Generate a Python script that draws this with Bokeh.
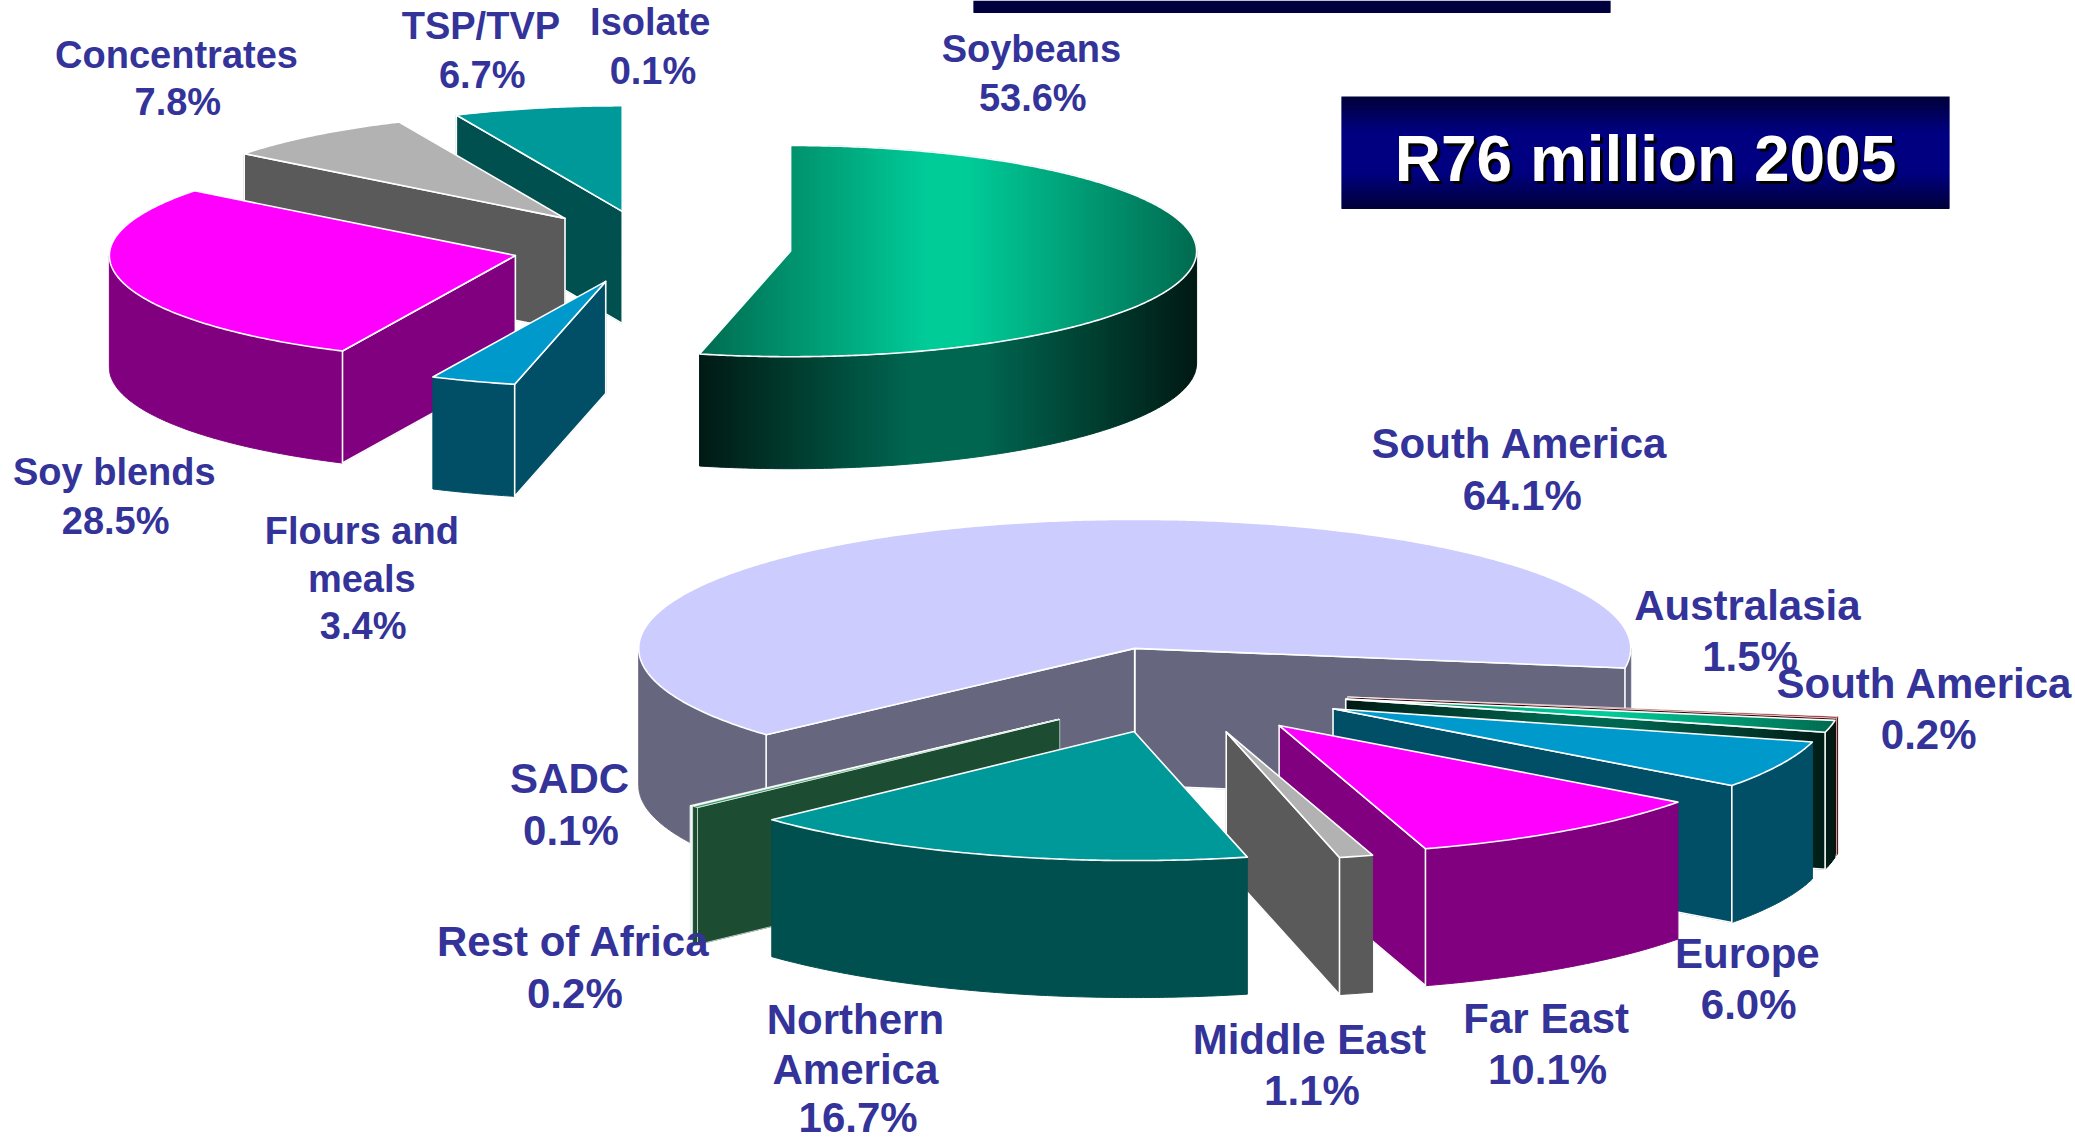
import numpy as np
from bokeh.plotting import figure
from bokeh.embed import file_html
from bokeh.resources import INLINE
from bokeh.core.properties import value

# ---- data ----
product_names = ["Soybeans", "Flours and meals", "Soy blends", "Concentrates", "TSP/TVP", "Isolate"]
product_shares = [53.6, 3.4, 28.5, 7.8, 6.7, 0.1]
region_names = ["South America", "South America", "Australasia", "Europe", "Far East",
                "Middle East", "Northern America", "Rest of Africa", "SADC"]
region_shares = [64.1, 0.2, 1.5, 6.0, 10.1, 1.1, 16.7, 0.2, 0.1]
title_text = "R76 million 2005"

# ---- styles (top colour, side colour); None marks the shaded green ----
product_colors = [None, ("#0099CC", "#004F66"), ("#FF00FF", "#800080"), ("#B2B2B2", "#5A5A5A"),
                  ("#009999", "#005050"), ("#FFFFFF", "#FFFFFF")]
region_colors = [("#CCCCFF", "#66667F"), ("#800000", "#400000"), None, ("#0099CC", "#004F66"),
                 ("#FF00FF", "#800080"), ("#B2B2B2", "#5A5A5A"), ("#009999", "#005050"),
                 ("#339966", "#1C4D33"), ("#F2FAF5", "#EEF5F0")]
INK = "#333399"
FONT = "Liberation Sans"
K = 1.3234  # label positions below were read in the shrunk view

# ---- layout ----
product_pie = dict(cx=651, cy=246.5, a=406, b=105.6, e=140, h=112, start=0)
region_pie = dict(cx=1182, cy=689.5, a=496, b=129, e=167, h=137, start=228)
region_draw_order = [0, 1, 2, 3, 4, 8, 7, 5, 6]
product_draw_order = [5, 4, 3, 0, 2, 1]

labels_top = [
    ("Concentrates", 133, 41), ("7.8%", 134, 77), ("TSP/TVP", 363, 19), ("6.7%", 364, 56),
    ("Isolate", 491, 16), ("0.1%", 493, 53), ("Soybeans", 779, 37), ("53.6%", 780, 74),
    ("Soy blends", 86, 356), ("28.5%", 87, 393), ("Flours and", 273, 401), ("meals", 273, 437),
    ("3.4%", 274, 473),
]
labels_bottom = [
    ("South America", 1148, 335), ("64.1%", 1150, 374), ("Australasia", 1320, 457), ("1.5%", 1322, 496),
    ("South America", 1454, 516), ("0.2%", 1457, 555), ("SADC", 430, 588), ("0.1%", 431, 627),
    ("Rest of Africa", 433, 711), ("0.2%", 434, 750), ("Northern", 646, 770), ("America", 646, 808),
    ("16.7%", 648, 844), ("Middle East", 989, 785), ("1.1%", 991, 824), ("Far East", 1168, 769),
    ("10.1%", 1169, 808), ("Europe", 1320, 720), ("6.0%", 1321, 759),
]

W, H = 2075, 1143
p = figure(width=W, height=H, x_range=(0, W), y_range=(H, 0), output_backend="svg",
           toolbar_location=None, min_border=0, outline_line_color=None)
p.axis.visible = False
p.grid.visible = False
p.background_fill_color = "white"
p.border_fill_color = "white"


def hex2rgb(c):
    return np.array([int(c[i:i + 2], 16) for i in (1, 3, 5)], float)


def mix(c0, c1, t):
    v = hex2rgb(c0) * (1 - t) + hex2rgb(c1) * t
    return "#%02X%02X%02X" % tuple(int(round(x)) for x in v)


def clip_x(xs, ys, x0, x1):
    def clip(pts, inside, cross):
        out = []
        for i in range(len(pts)):
            a, b = pts[i - 1], pts[i]
            if inside(b):
                if not inside(a):
                    out.append(cross(a, b))
                out.append(b)
            elif inside(a):
                out.append(cross(a, b))
        return out

    def at(xv):
        return lambda a, b: (xv, a[1] + (b[1] - a[1]) * (xv - a[0]) / (b[0] - a[0]))

    pts = list(zip(xs, ys))
    pts = clip(pts, lambda q: q[0] >= x0, at(x0))
    if pts:
        pts = clip(pts, lambda q: q[0] <= x1, at(x1))
    return [q[0] for q in pts], [q[1] for q in pts]


def shaded(polys, ctr, half, c_mid, c_edge, flat):
    """Fill polygons with a horizontal shade, as thin vertical strips."""
    sx, sy, col = [], [], []
    step = 3
    for xs, ys in polys:
        lo, hi = min(xs), max(xs)
        x = lo
        while x < hi:
            cx_, cy_ = clip_x(xs, ys, x, min(x + step, hi))
            if len(cx_) >= 3:
                t = min(1, abs(x + step / 2 - ctr) / half)
                t = max(0, (t - flat) / (1 - flat))
                sx.append(cx_)
                sy.append(cy_)
                col.append(mix(c_mid, c_edge, t))
            x += step
    if sx:
        p.patches(sx, sy, fill_color=col, line_color=col, line_width=1)


def draw_pie(shares, colors, names, geo, order):
    spans = []
    t = geo["start"]
    for v in shares:
        spans.append((t, t + 3.6 * v))
        t = spans[-1][1]
    for i in order:
        t1, t2 = spans[i]
        m = np.radians((t1 + t2) / 2)
        ax = geo["cx"] + geo["e"] * np.sin(m)
        ay = geo["cy"] - geo["e"] * geo["b"] / geo["a"] * np.cos(m)
        a, b, h = geo["a"], geo["b"], geo["h"]
        lw = 1.6 if t2 - t1 > 2 else 0.7

        def rim(d):
            r = np.radians(d)
            return ax + a * np.sin(r), ay - b * np.cos(r)

        faces = []
        for d, vis in ((t1, np.sin(np.radians(t1)) < -1e-6), (t2, np.sin(np.radians(t2)) > 1e-6)):
            if vis:
                rx, ry = rim(d)
                faces.append(([ax, rx, rx, ax], [ay, ry, ry + h, ay + h]))
        walls = []
        for k in (-1, 0, 1):
            lo, hi = max(t1, 90 + 360 * k), min(t2, 270 + 360 * k)
            if hi > lo:
                ds = np.linspace(lo, hi, max(3, int(hi - lo) * 2))
                rx, ry = rim(ds)
                walls.append((list(rx) + list(rx[::-1]), list(ry) + list((ry + h)[::-1])))
        ds = np.linspace(t1, t2, max(3, int(t2 - t1) * 2))
        rx, ry = rim(ds)
        top = ([ax] + list(rx), [ay] + list(ry))

        def outline(polys):
            p.patches([q[0] for q in polys], [q[1] for q in polys], fill_color=None,
                      line_color="white", line_width=lw, line_join="round")

        if colors[i] is None:
            xmin, xmax = min(top[0]), max(top[0])
            ctr, half = (xmin + xmax) / 2, (xmax - xmin) / 2
            shaded(faces + walls, ctr, half, "#006650", "#001A14", 0.15)
            outline(faces)
            shaded([top], ctr, half, "#00CC99", "#006B50", 0.08)
            outline([top])
        else:
            ctop, cside = colors[i]
            both = faces + walls
            if both:
                p.patches([q[0] for q in both], [q[1] for q in both], fill_color=cside,
                          line_color=cside, line_width=1)
                outline(faces)
            p.patches([top[0]], [top[1]], fill_color=ctop, line_color="white", line_width=lw,
                      line_join="round")


def banner(x0, x1, y0, y1, edge, mid):
    n = int(y1 - y0)
    ys = np.arange(n) + y0
    tv = 1 - np.abs((ys + 0.5 - (y0 + y1) / 2) / ((y1 - y0) / 2))
    col = [mix(edge, mid, min(1, v * 1.6)) for v in tv]
    p.quad(left=x0, right=x1, top=ys, bottom=ys + 1.4, fill_color=col, line_color=None)


draw_pie(product_shares, product_colors, product_names, product_pie, product_draw_order)
draw_pie(region_shares, region_colors, region_names, region_pie, region_draw_order)

banner(973, 1610, 0, 12, "#00003F", "#00003F")
banner(1341, 1949, 96, 208, "#00003A", "#000080")

for rows, size in ((labels_top, "38px"), (labels_bottom, "42px")):
    p.text(x=[r[1] * K for r in rows], y=[r[2] * K for r in rows], text=[r[0] for r in rows],
           text_color=INK, text_font=value(FONT), text_font_style="bold", text_font_size=size,
           text_align="center", text_baseline="middle")

tx, ty = 1645, 158
p.text(x=[tx + 3], y=[ty + 3], text=[title_text], text_color="black", text_font=value(FONT),
       text_font_style="bold", text_font_size="64px", text_align="center", text_baseline="middle")
p.text(x=[tx], y=[ty], text=[title_text], text_color="white", text_font=value(FONT),
       text_font_style="bold", text_font_size="64px", text_align="center", text_baseline="middle")

open("out.html", "w").write(file_html(p, INLINE))
